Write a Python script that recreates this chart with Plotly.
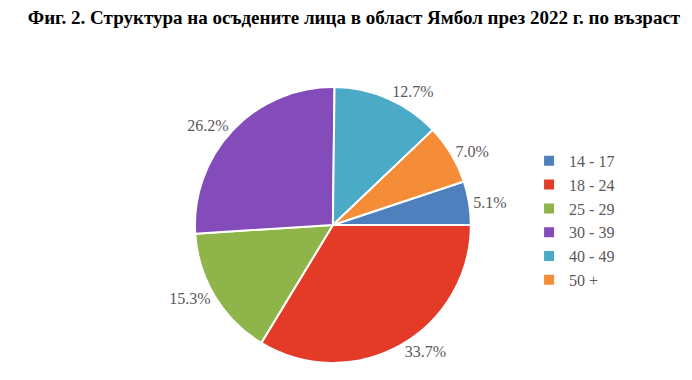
import plotly.graph_objects as go

categories = ["14 - 17", "18 - 24", "25 - 29", "30 - 39", "40 - 49", "50 +"]
shares = [5.1, 33.7, 15.3, 26.2, 12.7, 7.0]
colors = ["#4E80BD", "#E43A28", "#8EB44A", "#834CBA", "#4BAAC5", "#F58C38"]
title_text = "Фиг. 2. Структура на осъдените лица в област Ямбол през 2022 г. по възраст"

SERIF = "Liberation Serif, Times New Roman, serif"

fig = go.Figure(go.Pie(
    labels=categories,
    values=shares,
    sort=False,
    direction="clockwise",
    rotation=71.6,
    marker=dict(colors=colors, line=dict(color="white", width=2)),
    textinfo="percent",
    texttemplate="%{value:.1f}%",
    textposition="outside",
    textfont=dict(family=SERIF, size=16, color="#595959"),
    domain=dict(x=[0.270, 0.669], y=[0.066, 0.792]),
    hoverinfo="label+percent",
))

fig.update_layout(
    width=692, height=380,
    margin=dict(l=0, r=0, t=0, b=0),
    paper_bgcolor="white",
    plot_bgcolor="white",
    font=dict(family=SERIF, color="#595959"),
    title=dict(text="<b>" + title_text + "</b>", x=0.5, xanchor="center", y=0.975, yanchor="middle",
               font=dict(family=SERIF, size=19, color="black")),
    legend=dict(x=0.753, y=0.441, xanchor="left", yanchor="middle",
                font=dict(family=SERIF, size=16, color="#595959"),
                bgcolor="rgba(0,0,0,0)"),
)

fig.write_html("out.html")
